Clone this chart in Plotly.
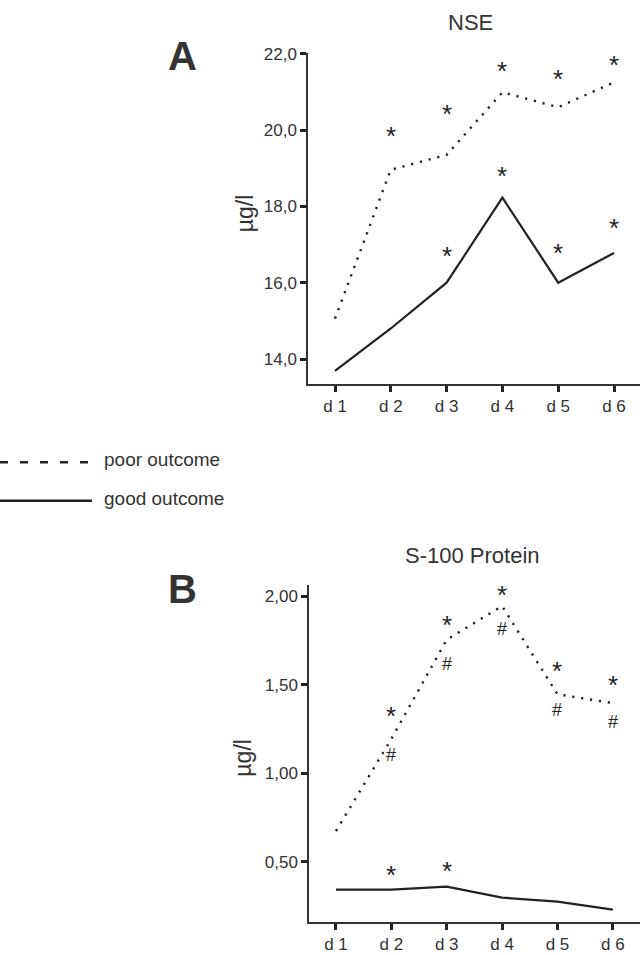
import plotly.graph_objects as go

days = ["d 1", "d 2", "d 3", "d 4", "d 5", "d 6"]
xi = [0, 1, 2, 3, 4, 5]

# Panel A: NSE (µg/l)
nse_poor = [15.06, 18.96, 19.35, 20.99, 20.60, 21.25]
nse_good = [13.69, 14.80, 16.00, 18.23, 16.00, 16.78]
nse_poor_star_x = [1, 2, 3, 4, 5]
nse_poor_star_y = [19.77, 20.34, 21.48, 21.27, 21.64]
nse_good_star_x = [2, 3, 4, 5]
nse_good_star_y = [16.62, 18.73, 16.70, 17.35]
nse_ticks = [14.0, 16.0, 18.0, 20.0, 22.0]
nse_ticklabels = ["14,0", "16,0", "18,0", "20,0", "22,0"]

# Panel B: S-100 Protein (µg/l)
s100_poor = [0.674, 1.194, 1.754, 1.944, 1.446, 1.396]
s100_good = [0.343, 0.343, 0.360, 0.298, 0.276, 0.230]
s100_poor_star_x = [1, 2, 3, 4, 5]
s100_poor_star_y = [1.306, 1.821, 1.989, 1.558, 1.480]
s100_hash_x = [1, 2, 3, 4, 5]
s100_hash_y = [1.105, 1.614, 1.815, 1.356, 1.289]
s100_good_star_x = [1, 2]
s100_good_star_y = [0.410, 0.432]
s100_ticks = [0.5, 1.0, 1.5, 2.0]
s100_ticklabels = ["0,50", "1,00", "1,50", "2,00"]

W, H = 642, 955
LINE = "#222222"
TXT = "#333333"
FONT = "Liberation Sans, Arial, sans-serif"
DOT = "2.2px,6.8px"


def px(x):
    return x / W


def py(y):
    return 1 - y / H


fig = go.Figure()
fig.add_trace(go.Scatter(x=xi, y=nse_poor, mode="lines", xaxis="x", yaxis="y",
                         line=dict(color=LINE, width=2.4, dash=DOT), showlegend=False))
fig.add_trace(go.Scatter(x=xi, y=nse_good, mode="lines", xaxis="x", yaxis="y",
                         line=dict(color=LINE, width=2.2), showlegend=False))
fig.add_trace(go.Scatter(x=xi, y=s100_poor, mode="lines", xaxis="x2", yaxis="y2",
                         line=dict(color=LINE, width=2.4, dash=DOT), showlegend=False))
fig.add_trace(go.Scatter(x=xi, y=s100_good, mode="lines", xaxis="x2", yaxis="y2",
                         line=dict(color=LINE, width=2.2), showlegend=False))

ann = []


def marks(xs, ys, xr, yr, ch, size, shift):
    for x, y in zip(xs, ys):
        ann.append(dict(x=x, y=y, xref=xr, yref=yr, text=ch, showarrow=False,
                        xanchor="center", yanchor="middle",
                        font=dict(family=FONT, size=size, color=LINE),
                        yshift=shift))


marks(nse_poor_star_x, nse_poor_star_y, "x", "y", "*", 26, 3)
marks(nse_good_star_x, nse_good_star_y, "x", "y", "*", 26, 3)
marks(s100_poor_star_x, s100_poor_star_y, "x2", "y2", "*", 26, 3)
marks(s100_good_star_x, s100_good_star_y, "x2", "y2", "*", 26, 3)
marks(s100_hash_x, s100_hash_y, "x2", "y2", "#", 18, 0)


def label(x, y, text, size, xanchor="center", angle=0):
    ann.append(dict(x=px(x), y=py(y), xref="paper", yref="paper", text=text,
                    showarrow=False, xanchor=xanchor, yanchor="middle", textangle=angle,
                    font=dict(family=FONT, size=size, color=TXT)))


label(470, 15, "NSE", 22)
label(472, 552, "S-100 Protein", 22)
label(183, 48, "<b>A</b>", 40)
label(183, 586, "<b>B</b>", 40)
label(245, 207, "µg/l", 23, angle=-90)
label(243, 756, "µg/l", 23, angle=-90)
label(102, 455, "poor outcome", 19, xanchor="left")
label(102, 495, "good outcome", 19, xanchor="left")

shapes = [
    dict(type="line", xref="paper", yref="paper", x0=px(0), x1=px(88), y0=py(458), y1=py(458),
         line=dict(color=LINE, width=2.5, dash="8px,12px")),
    dict(type="line", xref="paper", yref="paper", x0=px(0), x1=px(92), y0=py(497), y1=py(497),
         line=dict(color=LINE, width=2.5)),
]

xcommon = dict(tickmode="array", tickvals=xi, ticktext=days, showline=True, linecolor=TXT,
               linewidth=1.5, ticks="outside", ticklen=6, tickwidth=3, tickcolor=LINE,
               showgrid=False, zeroline=False, fixedrange=True,
               tickfont=dict(family=FONT, size=17, color=TXT))
ycommon = dict(showline=True, linecolor=TXT, linewidth=1.5, ticks="outside", ticklen=6,
               tickwidth=3, tickcolor=LINE, showgrid=False, zeroline=False,
               tickfont=dict(family=FONT, size=17, color=TXT))

fig.update_layout(
    width=W, height=H,
    margin=dict(l=0, r=0, t=0, b=0),
    paper_bgcolor="white", plot_bgcolor="white",
    showlegend=False,
    xaxis=dict(domain=[px(308), px(640)], range=[-0.484, 5.466], anchor="y", **xcommon),
    yaxis=dict(domain=[py(379), py(45)], range=[13.35, 22.03], anchor="x",
               tickvals=nse_ticks, ticktext=nse_ticklabels, **ycommon),
    xaxis2=dict(domain=[px(309), px(640)], range=[-0.487, 5.49], anchor="y2", **xcommon),
    yaxis2=dict(domain=[py(922), py(582)], range=[0.159, 2.062], anchor="x2",
                tickvals=s100_ticks, ticktext=s100_ticklabels, **ycommon),
    annotations=ann,
    shapes=shapes,
)

fig.write_html("out.html", config={"displayModeBar": False},
               post_script="document.body.style.margin='0';document.body.style.overflow='hidden';")
